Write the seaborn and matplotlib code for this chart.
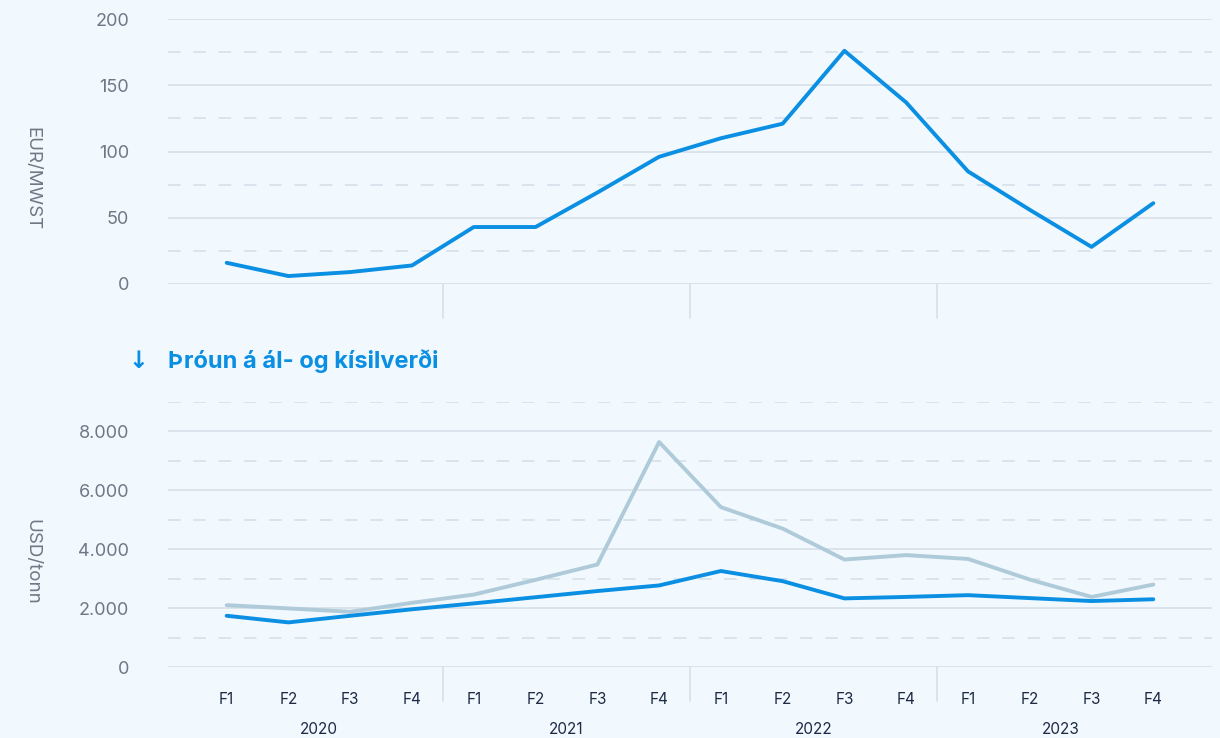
import matplotlib
matplotlib.use("Agg")
import matplotlib.pyplot as plt
import matplotlib.transforms as mtrans
from matplotlib.ticker import FuncFormatter, FixedLocator
import numpy as np
import pandas as pd
import seaborn as sns

# ---------------- data ----------------
years = ["2020", "2021", "2022", "2023"]
quarters = ["F1", "F2", "F3", "F4"]
periods = [f"{y} {q}" for y in years for q in quarters]
power_price = [16, 6, 9, 14, 43, 43, 69, 96, 110, 121, 176, 137, 85, 56, 28, 61]
aluminium = [1740, 1515, 1740, 1960, 2160, 2370, 2580, 2770, 3260, 2915, 2330, 2380, 2440, 2340, 2240, 2300]
silicon = [2100, 1990, 1875, 2180, 2460, 2960, 3480, 7640, 5430, 4700, 3650, 3800, 3670, 2970, 2380, 2800]
top_ticks = [0, 50, 100, 150, 200]
top_minor = [25, 75, 125, 175]
bottom_ticks = [0, 2000, 4000, 6000, 8000]
bottom_minor = [1000, 3000, 5000, 7000, 9000]
title_text = "Þróun á ál- og kísilverði"
ylabel_top = "EUR/MWST"
ylabel_bottom = "USD/tonn"

# ---------------- style ----------------
BG = "#F1F8FE"
BLUE = "#0A8FE2"
LIGHT = "#AFCBD9"
GRID = "#D9E2EB"
GREY = "#6E7784"
DARK = "#1E2944"

sns.set_theme(style="white")
plt.rcParams["font.family"] = ["Inter", "DejaVu Sans"]

df_top = pd.DataFrame({"period": periods, "value": power_price})
df_bot = pd.DataFrame({
    "period": periods * 2,
    "value": aluminium + silicon,
    "series": ["Ál"] * len(periods) + ["Kísill"] * len(periods),
})

fig = plt.figure(figsize=(12.2, 7.38), dpi=100, facecolor=BG)
L, W, H = 168 / 1220, (1212 - 168) / 1220, 265 / 738
ax1 = fig.add_axes([L, 1 - 284 / 738, W, H])
ax2 = fig.add_axes([L, 1 - 667 / 738, W, H])

sns.lineplot(data=df_top, x="period", y="value", ax=ax1, color=BLUE,
             linewidth=2.8, sort=False, legend=False)
sns.lineplot(data=df_bot, x="period", y="value", hue="series", ax=ax2,
             palette={"Ál": BLUE, "Kísill": LIGHT}, hue_order=["Kísill", "Ál"],
             linewidth=2.8, sort=False, legend=False)


def style_axis(ax, ymax, ticks, minor, fmt):
    ax.set_facecolor(BG)
    for s in ax.spines.values():
        s.set_visible(False)
    ax.set_xlim(-0.95, 15.95)
    ax.set_ylim(0, ymax)
    ax.set_yticks(ticks)
    ax.yaxis.set_minor_locator(FixedLocator(minor))
    ax.yaxis.set_major_formatter(FuncFormatter(fmt))
    ax.grid(False)
    ax.grid(True, which="major", axis="y", color=GRID, linewidth=1.3, linestyle="-")
    ax.grid(True, which="minor", axis="y", color=GRID, linewidth=1.3, linestyle=(0, (7, 7)))
    ax.set_axisbelow(True)
    ax.tick_params(axis="y", which="both", length=0, pad=28, labelsize=13, labelcolor=GREY)
    ax.set_xlabel("")
    trans = mtrans.blended_transform_factory(ax.transData, ax.transAxes)
    for b in [3.5, 7.5, 11.5]:
        ax.plot([b, b], [0, -34 / 265], transform=trans, color=GRID,
                linewidth=1.3, clip_on=False, zorder=0)


style_axis(ax1, 200, top_ticks, top_minor, lambda v, p: f"{int(v)}")
style_axis(ax2, 9000, bottom_ticks, bottom_minor,
           lambda v, p: f"{int(v):,}".replace(",", "."))

ax1.set_xticks(range(len(periods)))
ax1.tick_params(axis="x", length=0, labelbottom=False)
ax2.set_xticks(range(len(periods)))
ax2.set_xticklabels(quarters * len(years))
ax2.tick_params(axis="x", length=0, pad=18, labelsize=11, labelcolor=DARK)

trans2 = mtrans.blended_transform_factory(ax2.transData, ax2.transAxes)
for i, y in enumerate(years):
    ax2.text(1.5 + 4 * i, -(730 - 667) / 265, y, transform=trans2, ha="center",
             va="center", fontsize=11, color=DARK)

for ax, lab in [(ax1, ylabel_top), (ax2, ylabel_bottom)]:
    ax.set_ylabel(lab, rotation=270, color=GREY, fontsize=13.5, ha="center", va="center")
    ax.yaxis.set_label_coords(-0.13, 0.396)

fig.text(138 / 1220, 1 - 361 / 738, "↓", ha="center", va="center", color=BLUE,
         fontsize=17, fontweight="bold", family=["DejaVu Sans"])
fig.text(168 / 1220, 1 - 361 / 738, title_text, ha="left", va="center", color=BLUE,
         fontsize=17, fontweight="bold")

fig.savefig("out.png", dpi=100, facecolor=BG)
